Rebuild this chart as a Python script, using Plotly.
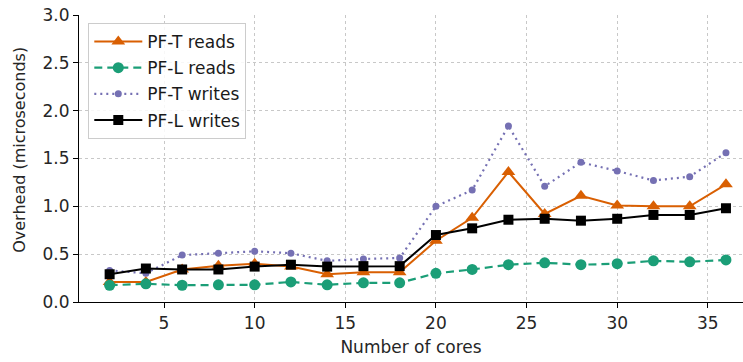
import plotly.graph_objects as go

cores = [2, 4, 6, 8, 10, 12, 14, 16, 18, 20, 22, 24, 26, 28, 30, 32, 34, 36]
pft_reads = [0.21, 0.21, 0.34, 0.38, 0.40, 0.37, 0.29, 0.31, 0.31, 0.64, 0.88, 1.36, 0.92, 1.11, 1.01, 1.00, 1.00, 1.23]
pfl_reads = [0.175, 0.19, 0.175, 0.18, 0.18, 0.21, 0.18, 0.20, 0.20, 0.30, 0.34, 0.39, 0.41, 0.39, 0.40, 0.43, 0.42, 0.44]
pft_writes = [0.33, 0.30, 0.49, 0.51, 0.53, 0.51, 0.43, 0.45, 0.46, 1.00, 1.17, 1.84, 1.21, 1.46, 1.37, 1.27, 1.31, 1.56]
pfl_writes = [0.29, 0.35, 0.34, 0.34, 0.37, 0.39, 0.37, 0.375, 0.375, 0.70, 0.77, 0.86, 0.87, 0.85, 0.87, 0.91, 0.91, 0.98]

x_ticks = [5, 10, 15, 20, 25, 30, 35]
y_ticks = [0.0, 0.5, 1.0, 1.5, 2.0, 2.5, 3.0]

FONT = "DejaVu Sans"
FS = 17
fig = go.Figure()
fig.add_trace(go.Scatter(x=cores, y=pft_reads, name="PF-T reads", mode="lines+markers",
                         line=dict(color="#d95f02", width=2),
                         marker=dict(symbol="triangle-up", size=12, color="#d95f02"),
                         legendgroup="a"))
fig.add_trace(go.Scatter(x=cores, y=pfl_reads, name="PF-L reads", mode="lines+markers",
                         line=dict(color="#1b9e77", width=2.2, dash="8px,5px"),
                         marker=dict(symbol="circle", size=11, color="#1b9e77"),
                         legendgroup="b"))
fig.add_trace(go.Scatter(x=cores, y=pft_writes, name="PF-T writes", mode="lines+markers",
                         line=dict(color="#7570b3", width=2.2, dash="2px,4px"),
                         marker=dict(symbol="circle", size=7, color="#7570b3"),
                         legendgroup="c"))
fig.add_trace(go.Scatter(x=cores, y=pfl_writes, name="PF-L writes", mode="lines+markers",
                         line=dict(color="#000000", width=2),
                         marker=dict(symbol="square", size=10, color="#000000"),
                         legendgroup="d"))

fig.update_layout(
    width=743, height=362,
    margin=dict(l=79, r=0, t=15, b=60),
    plot_bgcolor="white", paper_bgcolor="white",
    font=dict(family=FONT, size=FS, color="#262626"),
    showlegend=True,
    legend=dict(x=0.014, y=0.972, xanchor="left", yanchor="top",
                bgcolor="rgba(255,255,255,0.85)", bordercolor="#cccccc", borderwidth=1,
                font=dict(family=FONT, size=FS, color="#1a1a1a"),
                traceorder="grouped", tracegroupgap=1, itemwidth=48),
    xaxis=dict(range=[0.31, 36.94], tickvals=x_ticks, ticktext=[str(v) for v in x_ticks],
               showgrid=True, gridcolor="#c8c8c8", griddash="dot", gridwidth=1,
               showline=True, linecolor="black", linewidth=1.2, mirror=False,
               ticks="outside", ticklen=5, tickcolor="black", zeroline=False,
               tickfont=dict(size=FS),
               title=dict(text="Number of cores", standoff=9, font=dict(size=FS))),
    yaxis=dict(range=[0, 3.0], tickvals=y_ticks, ticktext=[f"{v:.1f}" for v in y_ticks],
               showgrid=True, gridcolor="#c8c8c8", griddash="dot", gridwidth=1,
               showline=True, linecolor="black", linewidth=1.2, mirror=False,
               ticks="outside", ticklen=5, tickcolor="black", zeroline=False,
               tickfont=dict(size=FS)),
    annotations=[dict(text="Overhead (microseconds)", textangle=-90, showarrow=False,
                      xref="paper", yref="paper", x=-0.089, y=0.53,
                      xanchor="center", yanchor="middle", font=dict(size=16))],
)

fig.write_html("out.html")
